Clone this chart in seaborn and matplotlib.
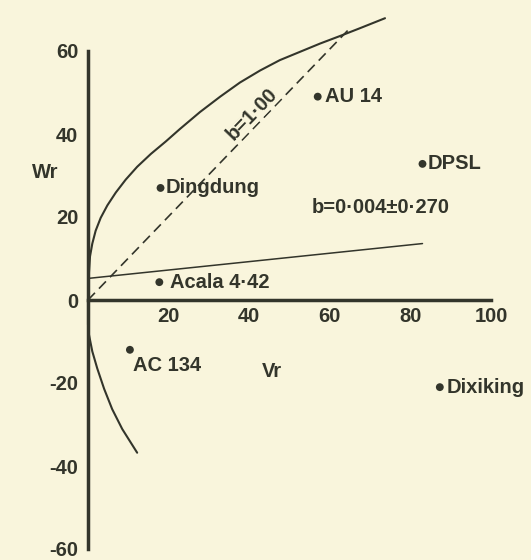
import matplotlib
matplotlib.use('Agg')
import matplotlib.pyplot as plt
import seaborn as sns
import pandas as pd

# ---------------- data ---------------- #
parents = ['Dingdung', 'AU 14', 'DPSL', 'Acala 4·42', 'AC 134', 'Dixiking']
vr = [18.0, 57.0, 83.0, 17.7, 10.4, 87.3]
wr = [27.0, 49.0, 32.8, 4.3, -12.0, -21.0]

# limiting parabola, traced point by point (lower branch -> origin -> upper branch)
curve_vr = [12.2, 8.5, 6.0, 4.0, 2.3, 1.07, 0.25, 0.0, 0.0,
            0.25, 0.5, 1.07, 1.9, 3.15, 4.8, 6.9, 9.35, 12.2, 15.6, 19.3,
            22.8, 27.8, 32.8, 37.7, 42.7, 47.6, 52.6, 57.6, 62.5, 67.5, 73.7]
curve_wr = [-36.8, -31.1, -26.3, -21.4, -16.5, -12.4, -8.4, -5.9, 0.0,
            6.7, 10.5, 13.6, 16.7, 19.8, 22.8, 25.9, 29.0, 32.1, 35.2, 38.2,
            41.2, 45.3, 49.0, 52.4, 55.3, 57.8, 59.8, 61.8, 63.6, 65.5, 67.9]

# fitted regression line and unit slope line
reg_vr = [0.0, 83.0]
reg_wr = [5.2, 13.6]
unit_vr = [0.0, 64.5]
unit_wr = [0.0, 65.0]

x_ticks = [20, 40, 60, 80, 100]
y_ticks = [-60, -40, -20, 0, 20, 40, 60]

# ---------------- style ---------------- #
bg = '#f9f5dc'
ink = '#33352b'
fs = 14.5
sns.set_style('white')
plt.rcParams['font.family'] = ['Liberation Sans', 'DejaVu Sans']
plt.rcParams['font.weight'] = 'bold'

fig = plt.figure(figsize=(5.31, 5.60), dpi=100, facecolor=bg)
ax = fig.add_axes([88 / 531, 11 / 560, 403 / 531, 498 / 560], facecolor=bg)

pts = pd.DataFrame({'Vr': vr, 'Wr': wr, 'parent': parents})
curve = pd.DataFrame({'Vr': curve_vr, 'Wr': curve_wr})

sns.lineplot(data=curve, x='Vr', y='Wr', sort=False, estimator=None,
             color=ink, lw=1.5, ax=ax, clip_on=False)
sns.lineplot(x=reg_vr, y=reg_wr, color=ink, lw=1.1, ax=ax)
sns.lineplot(x=unit_vr, y=unit_wr, color=ink, lw=1.2, ax=ax,
             linestyle=(0, (6, 3.5)), clip_on=False)
sns.scatterplot(data=pts, x='Vr', y='Wr', color=ink, s=32, ax=ax,
                edgecolor='none', zorder=5)

# point labels: (dx, dy) offsets in points
offsets = {'Dingdung': (4, 0), 'AU 14': (5, 0), 'DPSL': (4, 0),
           'Acala 4·42': (8, 0), 'AC 134': (2, -11), 'Dixiking': (5, 0)}
for name, x, y in zip(parents, vr, wr):
    ax.annotate(name, (x, y), xytext=offsets[name], textcoords='offset points',
                va='center', ha='left', fontsize=fs, color=ink,
                fontweight='bold', annotation_clip=False)

ax.text(55.6, 22.2, 'b=0·004±0·270', fontsize=fs, color=ink,
        fontweight='bold', va='center', ha='left')
ax.text(40.7, 44.8, 'b=1·00', fontsize=fs, color=ink, fontweight='bold',
        rotation=46, rotation_mode='anchor', ha='center', va='center',
        bbox=dict(facecolor=bg, edgecolor='none', pad=0.5))

# axes
ax.set_xlim(0, 100)
ax.set_ylim(-60, 60)
sns.despine(ax=ax, top=True, right=True)
ax.spines['bottom'].set_position(('data', 0))
ax.spines['bottom'].set_bounds(0, 100)
ax.spines['left'].set_bounds(-60, 60)
for side in ['left', 'bottom']:
    ax.spines[side].set_linewidth(2.5)
    ax.spines[side].set_color(ink)

ax.set_xticks(x_ticks)
ax.set_xticklabels([str(t) for t in x_ticks])
ax.set_yticks(y_ticks)
ax.set_yticklabels([str(t) for t in y_ticks])
ax.tick_params(direction='in', length=5, width=1.5, color=ink,
               labelcolor=ink, labelsize=fs)
ax.tick_params(axis='y', pad=7)
ax.tick_params(axis='x', pad=5)
for lab in ax.get_xticklabels() + ax.get_yticklabels():
    lab.set_fontweight('bold')

ax.set_xlabel('Vr', fontsize=fs, fontweight='bold', color=ink)
ax.set_ylabel('Wr', fontsize=fs, fontweight='bold', color=ink,
              rotation=0, ha='center', va='center')
ax.xaxis.set_label_coords(0.457, 0.375)
ax.yaxis.set_label_coords(-0.107, 0.757)

fig.savefig('out.png', dpi=100, facecolor=bg)
